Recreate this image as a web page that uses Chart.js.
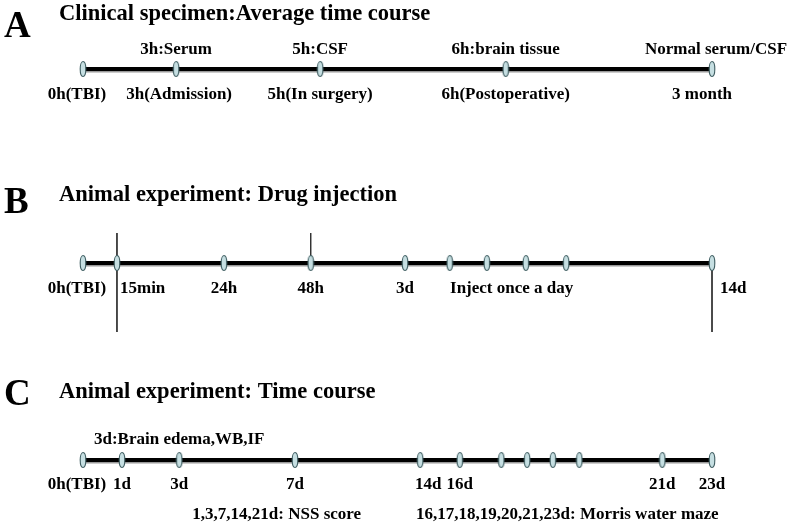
<!DOCTYPE html>
<html lang="en">
<head>
    <meta charset="UTF-8">
    <title>Time course</title>
    <script src="https://cdn.jsdelivr.net/npm/chart.js"></script>
    <style>
        body {
            margin: 0;
            background-color: #fff;
        }
        canvas {
            display: block;
        }
    </style>
</head>
<body>
    <canvas id="timeline" width="791" height="523"></canvas>

    <script>
        // timeline positions are given as % of the 0h -> end span
        const panelLetters = ['A', 'B', 'C'];
        const panelTitles = ['Clinical specimen:Average time course', 'Animal experiment: Drug injection', 'Animal experiment: Time course'];

        const markersA = [0, 14.8, 37.7, 67.2, 100];
        const aboveA = ['', '3h:Serum', '5h:CSF', '6h:brain tissue', 'Normal serum/CSF'];
        const belowA = ['0h(TBI)', '3h(Admission)', '5h(In surgery)', '6h(Postoperative)', '3 month'];

        const markersB = [0, 5.4, 22.4, 36.2, 51.2, 58.3, 64.2, 70.4, 76.8, 100];
        const belowB = ['0h(TBI)', '15min', '24h', '48h', '3d', '', '', '', '', '14d'];
        const injectionsB = [5.4, 36.2, 100];
        const dailyNoteB = 'Inject once a day';

        const markersC = [0, 6.2, 15.3, 33.7, 53.6, 59.9, 66.5, 70.6, 74.7, 78.9, 92.1, 100];
        const belowC = ['0h(TBI)', '1d', '3d', '7d', '14d', '16d', '', '', '', '', '21d', '23d'];
        const aboveC = ['', '', '3d:Brain edema,WB,IF', '', '', '', '', '', '', '', '', ''];
        const notesC = ['1,3,7,14,21d: NSS score', '16,17,18,19,20,21,23d: Morris water maze'];
        const notePosC = [30.8, 77.0];

        // layout (pixels on the 791x523 page)
        const rowY = [69, 263, 460];
        const X0 = 83, X100 = 712, W = 791, H = 523;
        const unit = (X100 - X0) / 100;
        const serif = '"Liberation Serif", "Times New Roman", serif';
        const LABEL = 17;

        // ellipse marker sprite
        const dot = document.createElement('canvas');
        dot.width = 8; dot.height = 18;
        (function () {
            const c = dot.getContext('2d');
            c.beginPath();
            c.ellipse(4, 9, 2.8, 7.5, 0, 0, Math.PI * 2);
            c.fillStyle = '#c6dfe2';
            c.fill();
            c.lineWidth = 1.1;
            c.strokeStyle = '#3d5c60';
            c.stroke();
        })();

        function pts(xs, y) {
            return xs.map(v => ({x: v, y: y}));
        }

        const datasets = [];
        [markersA, markersB, markersC].forEach((m, i) => {
            datasets.push({
                type: 'scatter', data: pts(m, rowY[i]), pointStyle: dot,
                pointRadius: 8, pointHoverRadius: 8, order: 0
            });
            datasets.push({
                type: 'line', data: pts([0, 100], rowY[i]), borderColor: '#000',
                borderWidth: 4, pointRadius: 0, order: 2
            });
            datasets.push({
                type: 'line', data: pts([0, 100], rowY[i] + 1.5), borderColor: '#9a9a9a',
                borderWidth: 4, pointRadius: 0, order: 3
            });
        });
        // vertical injection marks in panel B
        const injExtent = [[233, 332], [233, rowY[1]], [rowY[1], 332]];
        injectionsB.forEach((v, k) => {
            datasets.push({
                type: 'line', data: [{x: v, y: injExtent[k][0]}, {x: v, y: injExtent[k][1]}],
                borderColor: '#333', borderWidth: 1, pointRadius: 0, order: 1
            });
        });

        const nudge = {'0h(TBI)': -6, '15min': 3, '14d': 8, 'Normal serum/CSF': 4, '3 month': -10, '3h(Admission)': 3};
        const leftAligned = ['15min', '14d'];

        const textPlugin = {
            id: 'texts',
            afterDatasetsDraw(chart) {
                const ctx = chart.ctx, xs = chart.scales.x, ys = chart.scales.y;
                ctx.save();
                ctx.fillStyle = '#000';
                ctx.textBaseline = 'middle';

                function put(str, v, y, size) {
                    if (!str) return;
                    ctx.font = 'bold ' + size + 'px ' + serif;
                    const left = leftAligned.includes(str) && y > 200 && y < 330;
                    ctx.textAlign = left ? 'left' : 'center';
                    ctx.fillText(str, xs.getPixelForValue(v) + (nudge[str] || 0), ys.getPixelForValue(y));
                }

                // panel letters and titles
                const letterBase = [37, 213, 405];
                const titleBase = [20, 201, 398];
                panelLetters.forEach((l, i) => {
                    ctx.textBaseline = 'alphabetic';
                    ctx.textAlign = 'left';
                    ctx.font = 'bold 37px ' + serif;
                    ctx.fillText(l, 4, letterBase[i]);
                    ctx.font = 'bold 22.5px ' + serif;
                    ctx.fillText(panelTitles[i], 59, titleBase[i]);
                });
                ctx.textBaseline = 'middle';

                markersA.forEach((v, k) => {
                    put(aboveA[k], v, rowY[0] - 19.5, LABEL);
                    put(belowA[k], v, rowY[0] + 26, LABEL);
                });
                markersB.forEach((v, k) => put(belowB[k], v, rowY[1] + 26, LABEL));
                put(dailyNoteB, (markersB[5] + markersB[8]) / 2 + 0.6, rowY[1] + 26, LABEL);
                markersC.forEach((v, k) => {
                    put(aboveC[k], v, rowY[2] - 20.5, LABEL);
                    put(belowC[k], v, rowY[2] + 24.5, LABEL);
                });
                notesC.forEach((n, k) => put(n, notePosC[k], rowY[2] + 54.5, LABEL));
                ctx.restore();
            }
        };

        new Chart(document.getElementById('timeline').getContext('2d'), {
            type: 'scatter',
            data: {datasets: datasets},
            options: {
                responsive: false,
                animation: false,
                layout: {padding: 0, autoPadding: false},
                plugins: {legend: {display: false}, tooltip: {enabled: false}},
                scales: {
                    x: {type: 'linear', display: false, min: -X0 / unit, max: (W - X0) / unit},
                    y: {type: 'linear', display: false, min: 0, max: H, reverse: true}
                }
            },
            plugins: [textPlugin]
        });
    </script>
</body>
</html>
